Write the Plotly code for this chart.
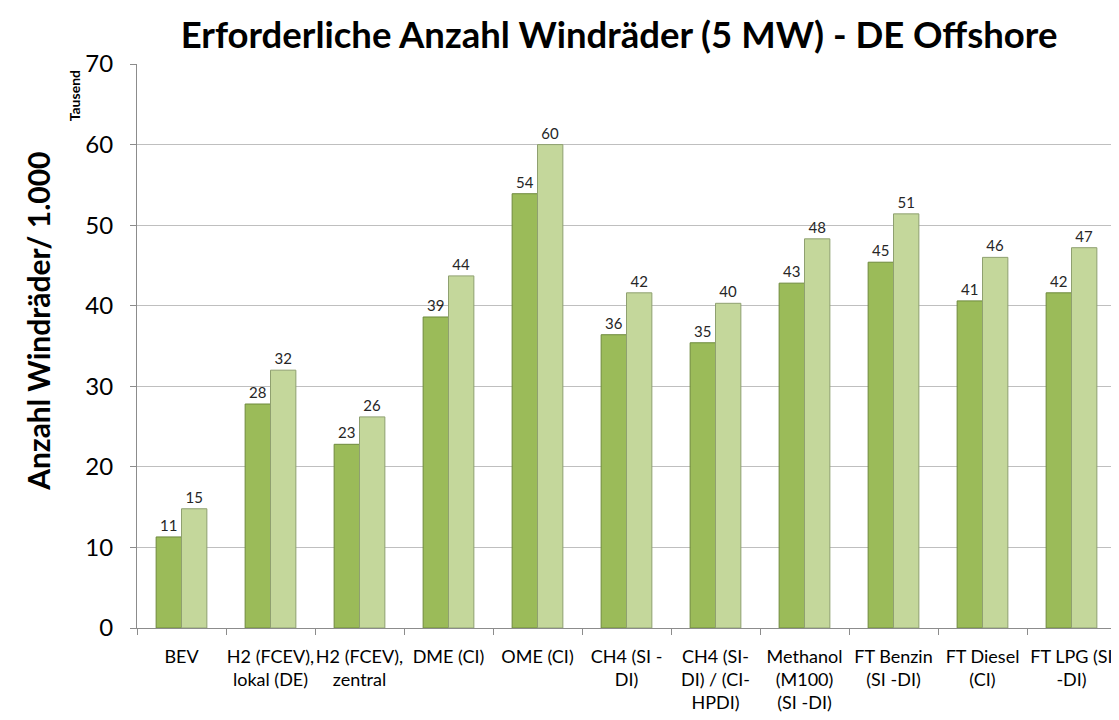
import plotly.graph_objects as go

categories = ["BEV", "H2 (FCEV),<br>lokal (DE)", "H2 (FCEV),<br>zentral", "DME (CI)", "OME (CI)",
              "CH4 (SI -<br>DI)", "CH4 (SI-<br>DI) / (CI-<br>HPDI)", "Methanol<br>(M100)<br>(SI -DI)",
              "FT Benzin<br>(SI -DI)", "FT Diesel<br>(CI)", "FT LPG (SI<br>-DI)"]
series_dark = [11.3, 27.8, 22.8, 38.6, 53.9, 36.4, 35.4, 42.8, 45.4, 40.6, 41.6]
series_light = [14.8, 32.0, 26.2, 43.7, 60.0, 41.6, 40.3, 48.3, 51.4, 46.0, 47.2]
y_ticks = [0, 10, 20, 30, 40, 50, 60, 70]

font = "Lato"
fig = go.Figure()
fig.add_trace(go.Bar(x=categories, y=series_dark, name="A",
                     marker=dict(color="#9BBB59", line=dict(color="#6E8A3C", width=1)),
                     text=series_dark, texttemplate="%{y:.0f}", textposition="outside",
                     textfont=dict(size=15, color="#262626", family=font), cliponaxis=False))
fig.add_trace(go.Bar(x=categories, y=series_light, name="B",
                     marker=dict(color="#C4D79B", line=dict(color="#8FA070", width=1)),
                     text=series_light, texttemplate="%{y:.0f}", textposition="outside",
                     textfont=dict(size=15, color="#262626", family=font), cliponaxis=False))

# page body has an 8px margin, so the figure is sized/offset to compensate
fig.update_layout(
    width=1111, height=712,
    margin=dict(l=129, r=3, t=56, b=92, autoexpand=False),
    plot_bgcolor="white", paper_bgcolor="white",
    barmode="group", bargap=0.43, bargroupgap=0,
    showlegend=False,
    font=dict(family=font, color="#000000"),
    title=dict(text="<b>Erforderliche Anzahl Windräder (5 MW) - DE Offshore</b>",
               x=0.55, xanchor="center", y=0.962, yanchor="middle",
               font=dict(size=36.5, family=font, color="#000000")),
    xaxis=dict(showline=True, linecolor="#8C8C8C", linewidth=1, ticks="outside",
               tickson="boundaries", ticklen=6, tickcolor="#8C8C8C", automargin=False,
               ticklabelstandoff=12,
               tickfont=dict(size=18, family=font, color="#000000"), tickangle=0),
    yaxis=dict(range=[0, 70], tickvals=y_ticks, showgrid=True, gridcolor="#BFBFBF",
               showline=True, linecolor="#8C8C8C", linewidth=1, ticks="outside",
               ticklen=6, tickcolor="#8C8C8C", zeroline=False, automargin=False,
               ticklabelstandoff=12,
               tickfont=dict(size=24, family=font, color="#000000")),
)
fig.add_annotation(text="<b>Anzahl Windräder/ 1.000</b>", xref="paper", yref="paper",
                   x=-0.101, y=0.543, xanchor="center", yanchor="middle",
                   textangle=-90, showarrow=False,
                   font=dict(size=30, family=font, color="#000000"))
fig.add_annotation(text="<b>Tausend</b>", xref="paper", yref="paper",
                   x=-0.064, y=0.992, xanchor="center", yanchor="top",
                   textangle=-90, showarrow=False,
                   font=dict(size=14, family=font, color="#000000"))
fig.write_html("out.html")
